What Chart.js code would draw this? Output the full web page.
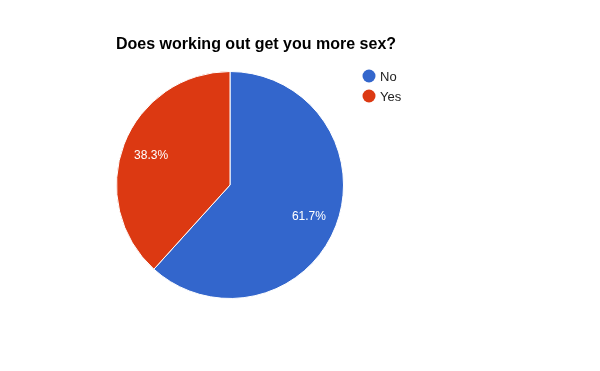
<!DOCTYPE html>
<html>
<head>
<meta charset="utf-8">
<script src="https://cdn.jsdelivr.net/npm/chart.js@4/dist/chart.umd.min.js"></script>
<style>
  html, body { margin: 0; padding: 0; background: #fff; }
  #wrap { width: 600px; height: 371px; position: relative; }
</style>
</head>
<body>
<div id="wrap"><canvas id="pieChart" width="600" height="371"></canvas></div>
<script>
'use strict';

// data
var title = 'Does working out get you more sex?';
var labels = ['No', 'Yes'];
var values = [61.7, 38.3];
var colors = ['#3366cc', '#dc3912'];

// draws the title, legend and the percent labels, google charts style
var decorPlugin = {
  id: 'decor',
  afterDatasetsDraw: function(chart) {
    var ctx = chart.ctx;
    ctx.save();
    // title
    ctx.fillStyle = '#000';
    ctx.font = 'bold 16px Arial, "Liberation Sans", sans-serif';
    ctx.textAlign = 'left';
    ctx.textBaseline = 'middle';
    ctx.fillText(title, 116, 45);

    // legend
    ctx.font = '13px Arial, "Liberation Sans", sans-serif';
    labels.forEach(function(l, i) {
      var y = 76 + i * 20;
      ctx.fillStyle = colors[i];
      ctx.beginPath();
      ctx.arc(369, y, 6.5, 0, Math.PI * 2);
      ctx.fill();
      ctx.fillStyle = '#222';
      ctx.fillText(l, 380, y + 1);
    });

    // percent labels inside slices
    var total = values.reduce(function(a, b) { return a + b; }, 0);
    var meta = chart.getDatasetMeta(0);
    ctx.font = '12px Arial, "Liberation Sans", sans-serif';
    ctx.textAlign = 'center';
    ctx.fillStyle = '#fff';
    meta.data.forEach(function(arc, i) {
      var mid = (arc.startAngle + arc.endAngle) / 2;
      var r = arc.outerRadius * 0.745;
      var x = arc.x + Math.cos(mid) * r;
      var y = arc.y + Math.sin(mid) * r;
      ctx.fillText((values[i] / total * 100).toFixed(1) + '%', x, y + 1);
    });
    ctx.restore();
  }
};

var ctx = document.getElementById('pieChart').getContext('2d');
var chart = new Chart(ctx, {
  type: 'pie',
  data: {
    labels: labels,
    datasets: [{
      data: values,
      backgroundColor: colors,
      borderColor: '#fff',
      borderWidth: 1
    }]
  },
  options: {
    responsive: false,
    animation: false,
    layout: { padding: { left: 116, right: 256, top: 71, bottom: 72 } },
    plugins: {
      legend: { display: false },
      tooltip: { enabled: false }
    }
  },
  plugins: [decorPlugin]
});
</script>
</body>
</html>
